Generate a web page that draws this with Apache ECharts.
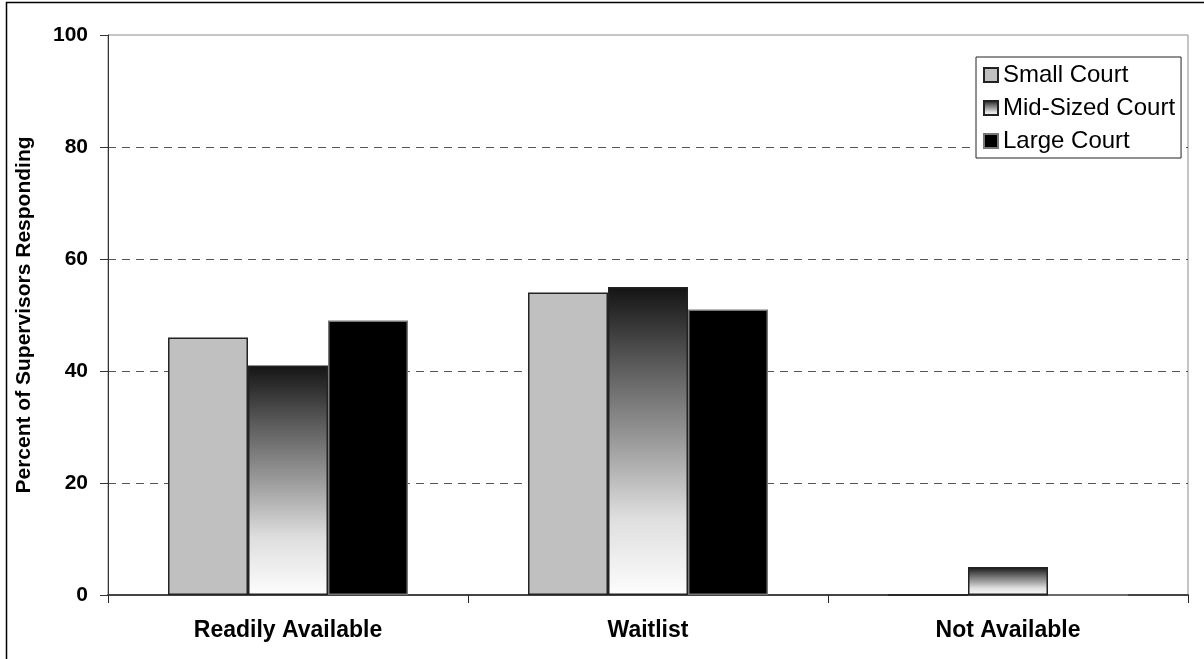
<!DOCTYPE html>
<html>
<head>
<meta charset="utf-8">
<script src="https://cdn.jsdelivr.net/npm/echarts@6/dist/echarts.min.js"></script>
<style>
html,body{margin:0;padding:0;background:#fff;}
#chart{width:1204px;height:659px;}
</style>
</head>
<body>
<div id="chart"></div>
<script>
var categories = ["Readily Available", "Waitlist", "Not Available"];
var smallCourt = [46, 54, 0];
var midCourt = [41, 55, 5];
var largeCourt = [49, 51, 0];
var yTicks = [0, 20, 40, 60, 80, 100];

var FONT = "Liberation Sans, Arial, sans-serif";

// dark at the top fading to white at the base, like the original fill
var midGradient = {
    type: "linear", x: 0, y: 0, x2: 0, y2: 1,
    colorStops: [
        {offset: 0, color: "#141414"},
        {offset: 0.25, color: "#5a5a5a"},
        {offset: 0.5, color: "#9a9a9a"},
        {offset: 0.75, color: "#dedede"},
        {offset: 1, color: "#fdfdfd"}
    ]
};

var myChart = echarts.init(document.getElementById("chart"));

var option = {
    animation: false,
    backgroundColor: "#fff",
    graphic: [{
        type: "rect",
        shape: {x: 6.5, y: 2.5, width: 1300, height: 800},
        style: {fill: "none", stroke: "#000", lineWidth: 1.5},
        silent: true
    }],
    grid: {
        left: 108, top: 35, right: 16, bottom: 64,
        show: true, borderColor: "#8c8c8c", borderWidth: 1
    },
    legend: {
        orient: "vertical",
        left: 976, top: 57,
        backgroundColor: "#fff",
        borderColor: "#222", borderWidth: 1,
        padding: [6, 6, 5, 7],
        itemWidth: 14, itemHeight: 14,
        itemGap: 9,
        icon: "rect",
        textStyle: {fontFamily: FONT, fontSize: 24, color: "#000"},
        data: ["Small Court", "Mid-Sized Court", "Large Court"]
    },
    xAxis: {
        type: "category",
        data: categories,
        axisLine: {lineStyle: {color: "#444", width: 2}},
        axisTick: {show: true, alignWithLabel: false, length: 8, lineStyle: {color: "#222"}},
        axisLabel: {fontFamily: FONT, fontSize: 23, fontWeight: "bold", color: "#000", margin: 24}
    },
    yAxis: {
        type: "value",
        min: yTicks[0], max: yTicks[yTicks.length - 1], interval: 20,
        name: "Percent of Supervisors Responding",
        nameLocation: "middle",
        nameGap: 73,
        nameTextStyle: {fontFamily: FONT, fontSize: 21, fontWeight: "bold", color: "#000"},
        axisLine: {show: true, lineStyle: {color: "#333", width: 1}},
        axisTick: {show: true, length: 8, lineStyle: {color: "#333"}},
        axisLabel: {fontFamily: FONT, fontSize: 21, fontWeight: "bold", color: "#000", margin: 20},
        splitLine: {show: true, showMinLine: false, showMaxLine: false,
            lineStyle: {color: "#555", type: [8, 6], width: 1}}
    },
    series: [
        {
            name: "Small Court", type: "bar", data: smallCourt,
            barWidth: 80, barGap: "0%",
            itemStyle: {color: "#c0c0c0", borderColor: "#222", borderWidth: 1.5}
        },
        {
            name: "Mid-Sized Court", type: "bar", data: midCourt,
            barWidth: 80, barGap: "0%",
            itemStyle: {color: midGradient, borderColor: "#222", borderWidth: 1.5}
        },
        {
            name: "Large Court", type: "bar", data: largeCourt,
            barWidth: 80, barGap: "0%",
            itemStyle: {color: "#000", borderColor: "#777", borderWidth: 1.5}
        }
    ]
};

myChart.setOption(option);
</script>
</body>
</html>
